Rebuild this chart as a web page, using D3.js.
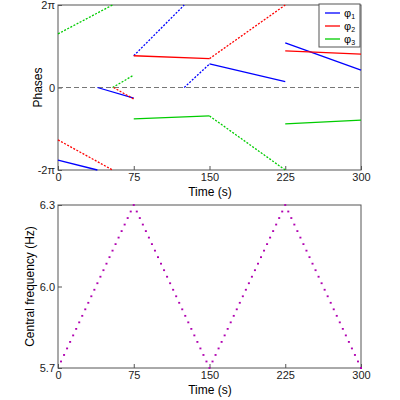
<!DOCTYPE html>
<html><head><meta charset="utf-8">
<script src="https://cdn.jsdelivr.net/npm/d3@7"></script>
<style>body{margin:0;background:#fff}text{font-family:"Liberation Sans",Arial,sans-serif}</style>
</head><body><svg id="c" width="400" height="400"></svg>
<script>
// phase segments: [t0, phase0 (in pi), t1, phase1, series, steep]
const seriesNames = ["φ1", "φ2", "φ3"];
const seriesColors = ["#0000ff", "#ff0000", "#00cc00"];
const phaseSegs = [
  [0, 1.3, 54, 2, 2, 1],
  [54, 0, 75, 0.3, 2, 1],
  [0, -1.27, 54, -2, 1, 1],
  [0, -1.76, 39, -2, 0, 0],
  [39, 0, 75, -0.26, 0, 0],
  [55, 0, 75, -0.28, 1, 1],
  [75, 0.77, 125, 2, 0, 1],
  [75, 0.77, 150, 0.7, 1, 0],
  [125, 0, 150, 0.57, 0, 1],
  [75, -0.76, 150, -0.69, 2, 0],
  [150, 0.7, 225, 2, 1, 1],
  [150, 0.57, 225, 0.14, 0, 0],
  [150, -0.69, 225, -2, 2, 1],
  [225, 1.08, 300, 0.42, 0, 0],
  [225, 0.89, 300, 0.81, 1, 0],
  [225, -0.88, 300, -0.79, 2, 0]
];
const timeTicks = [0, 75, 150, 225, 300];
const phaseTicks = [-2, 0, 2];
const phaseLabels = ["-2π", "0", "2π"];
const freqTicks = [5.7, 6.0, 6.3];
const freqTimes = d3.range(3, 301, 3);
const freqValues = [
  5.724,5.748,5.772,5.796,5.82,5.844,5.868,5.892,5.916,5.94,5.964,5.988,6.012,6.036,6.06,6.084,6.108,6.132,6.156,6.18,6.204,6.228,6.252,6.276,6.3,
  6.276,6.252,6.228,6.204,6.18,6.156,6.132,6.108,6.084,6.06,6.036,6.012,5.988,5.964,5.94,5.916,5.892,5.868,5.844,5.82,5.796,5.772,5.748,5.724,5.7,
  5.724,5.748,5.772,5.796,5.82,5.844,5.868,5.892,5.916,5.94,5.964,5.988,6.012,6.036,6.06,6.084,6.108,6.132,6.156,6.18,6.204,6.228,6.252,6.276,6.3,
  6.276,6.252,6.228,6.204,6.18,6.156,6.132,6.108,6.084,6.06,6.036,6.012,5.988,5.964,5.94,5.916,5.892,5.868,5.844,5.82,5.796,5.772,5.748,5.724,5.7
];

const svg = d3.select("#c");
const x = d3.scaleLinear().domain([0, 300]).range([58, 361]);
const y1 = d3.scaleLinear().domain([-2, 2]).range([170, 5]);
const y2 = d3.scaleLinear().domain([5.7, 6.3]).range([368, 205]);

function frame(y, yt, yfmt, title, tx) {
  const g = svg.append("g");
  g.append("g").attr("transform", `translate(0,${y.range()[0]})`)
    .call(d3.axisBottom(x).tickValues(timeTicks).tickSize(-4).tickPadding(3));
  g.append("g").attr("transform", `translate(${x.range()[0]},0)`)
    .call(d3.axisLeft(y).tickValues(yt).tickFormat(yfmt).tickSize(-4).tickPadding(3));
  g.append("rect").attr("x", 58).attr("y", y.range()[1]).attr("width", 303)
    .attr("height", y.range()[0] - y.range()[1]).attr("fill", "none").attr("stroke", "#555");
  g.selectAll(".domain").remove();
  g.selectAll(".tick line").attr("stroke", "#555");
  g.selectAll(".tick text").attr("font-size", 11).attr("fill", "#222");
  g.append("text").attr("x", 210).attr("y", y.range()[0] + 26).attr("text-anchor", "middle")
    .attr("font-size", 12).text("Time (s)");
  g.append("text").attr("transform", `translate(${tx},${(y.range()[0] + y.range()[1]) / 2}) rotate(-90)`)
    .attr("text-anchor", "middle").attr("font-size", 12).text(title);
}

frame(y1, phaseTicks, (d, i) => phaseLabels[i], "Phases", 42);
svg.append("line").attr("x1", x(0)).attr("x2", x(300)).attr("y1", y1(0)).attr("y2", y1(0))
  .attr("stroke", "#777").attr("stroke-dasharray", "5,3");
svg.selectAll(".seg").data(phaseSegs).enter().append("line")
  .attr("x1", d => x(d[0])).attr("y1", d => y1(d[1]))
  .attr("x2", d => x(d[2])).attr("y2", d => y1(d[3]))
  .attr("stroke", d => seriesColors[d[4]]).attr("stroke-width", 1.3)
  .attr("stroke-dasharray", d => d[5] ? "2,1.5" : null);

const lg = svg.append("g").attr("transform", "translate(319,4)");
lg.append("rect").attr("width", 41).attr("height", 43).attr("fill", "#fff").attr("stroke", "#555");
seriesNames.forEach((n, i) => {
  lg.append("line").attr("x1", 6).attr("x2", 21).attr("y1", 9 + i * 13).attr("y2", 9 + i * 13)
    .attr("stroke", seriesColors[i]).attr("stroke-width", 1.3);
  const t = lg.append("text").attr("x", 25).attr("y", 13 + i * 13).attr("font-size", 11).text(n[0]);
  t.append("tspan").attr("font-size", 7).attr("dy", 2).text(n.slice(1));
});

frame(y2, freqTicks, d3.format(".1f"), "Central frequency (Hz)", 34);
svg.selectAll(".fd").data(freqValues).enter().append("line")
  .attr("x1", (d, i) => x(freqTimes[i]) - 1).attr("x2", (d, i) => x(freqTimes[i]) + 1)
  .attr("y1", d => y2(d)).attr("y2", d => y2(d))
  .attr("stroke", "#b000b0").attr("stroke-width", 1.8);
</script></body></html>
